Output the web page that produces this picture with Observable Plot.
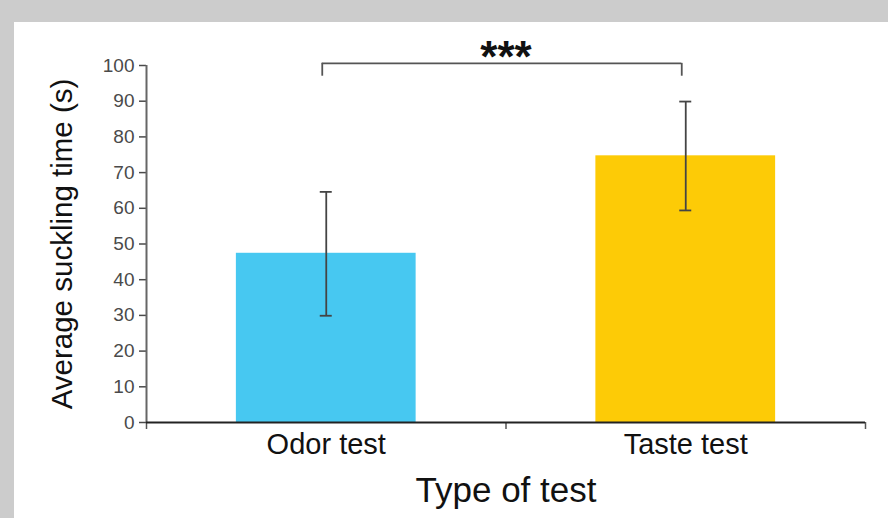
<!DOCTYPE html>
<html>
<head>
<meta charset="utf-8">
<script src="https://cdn.jsdelivr.net/npm/d3@7"></script>
<script src="https://cdn.jsdelivr.net/npm/@observablehq/plot@0.6"></script>
<style>
  html, body { margin: 0; padding: 0; background: #cccccc; width: 888px; height: 518px; overflow: hidden; }
  #panel { position: absolute; left: 14px; top: 22px; width: 874px; height: 496px; background: #ffffff; }
  svg { font-family: "Liberation Sans", Arial, sans-serif; }
</style>
</head>
<body>
<div id="panel"></div>
<script>
// ---- data ----
const categories = ["Odor test", "Taste test"];
const means = [47.4, 74.7];
const errHigh = [64.6, 89.9];
const errLow = [29.9, 59.4];
const barColors = ["#47c8f1", "#fdcb06"];
const yTicks = [0, 10, 20, 30, 40, 50, 60, 70, 80, 90, 100];
const sigLabel = ["***"];
const sigLevel = [100.6];   // bracket height (data units)
const sigDrop = [97];       // bracket ends (data units)

const data = categories.map((c, i) => ({
  i, category: c, mean: means[i], hi: errHigh[i], lo: errLow[i], color: barColors[i]
}));
const centre = d => d.i + 0.5;

const chart = Plot.plot({
  width: 874,
  height: 496,
  marginLeft: 132,
  marginRight: 23,
  marginTop: 43,
  marginBottom: 96,
  style: { fontFamily: "Liberation Sans, Arial, sans-serif", background: "transparent" },
  x: { domain: [0, categories.length] },
  y: { domain: [0, 100] },
  marks: [
    Plot.rectY(data, { x1: d => d.i + 0.25, x2: d => d.i + 0.75, y1: 0, y2: "mean", fill: "color" }),
    // error bars
    Plot.ruleX(data, { x: centre, y1: "lo", y2: "hi", stroke: "#444", strokeWidth: 1.8 }),
    Plot.ruleY(data, { y: "hi", x1: centre, x2: centre, insetLeft: -6, insetRight: -6, stroke: "#444", strokeWidth: 1.8 }),
    Plot.ruleY(data, { y: "lo", x1: centre, x2: centre, insetLeft: -6, insetRight: -6, stroke: "#444", strokeWidth: 1.8 }),
    // y axis
    Plot.axisY({ ticks: yTicks, tickSize: 7, tickPadding: 5, fontSize: 19, color: "#4a4a4a", strokeWidth: 1.5, label: null }),
    Plot.ruleX([0], { y1: 0, y2: 100, stroke: "#666", strokeWidth: 2 }),
    // x axis ticks (separators)
    Plot.axisX({ ticks: [0, 1, 2], tickSize: 7, tickFormat: () => "", color: "#555", strokeWidth: 1.5, label: null }),
    Plot.ruleY([0], { stroke: "#222", strokeWidth: 2 }),
    // category labels
    Plot.text(data, { x: centre, frameAnchor: "bottom", text: "category", lineAnchor: "top", dy: 11, fontSize: 29, fill: "#111" }),
    // axis titles
    Plot.text(["Type of test"], { frameAnchor: "bottom", lineAnchor: "middle", dy: 68, fontSize: 35, fill: "#111" }),
    Plot.text(["Average suckling time (s)"], { frameAnchor: "left", rotate: -90, textAnchor: "middle", lineAnchor: "middle", dx: -84, fontSize: 29.5, fill: "#111" }),
    // significance bracket
    Plot.ruleY(sigLevel, { y: d => d, x1: 0.5, x2: 1.5, dx: -4, stroke: "#555", strokeWidth: 1.8 }),
    Plot.ruleX([0.5, 1.5], { x: d => d, y1: sigDrop[0], y2: sigLevel[0], dx: -4, stroke: "#555", strokeWidth: 1.8 }),
    Plot.text(sigLabel, { x: 1, y: sigLevel[0], dy: -5, text: d => d, fontSize: 44, fontWeight: "bold", fill: "#111", lineAnchor: "middle", letterSpacing: "2px" })
  ]
});
document.getElementById("panel").appendChild(chart);
</script>
</body>
</html>
